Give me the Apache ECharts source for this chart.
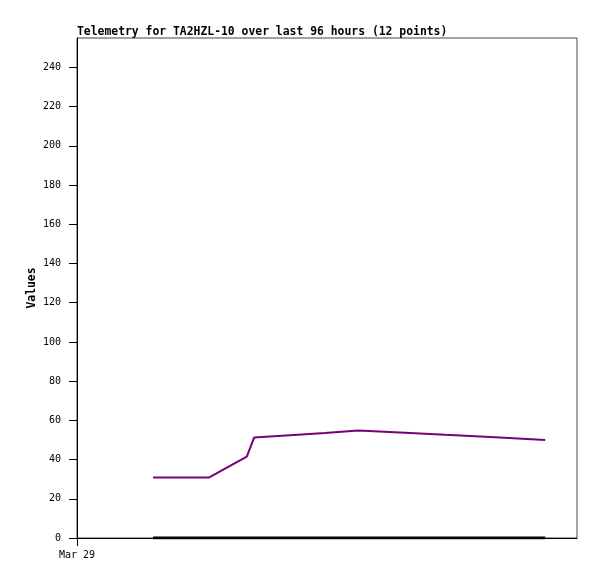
<!DOCTYPE html>
<html><head><meta charset="utf-8">
<script src="https://cdn.jsdelivr.net/npm/echarts@6/dist/echarts.min.js"></script>
<style>html,body{margin:0;padding:0;background:#fff}#c{width:597px;height:579px}</style>
</head><body><div id="c"></div>
<script>
const titleText = 'Telemetry for TA2HZL-10 over last 96 hours (12 points)';
const hours = [14.6, 25.3, 32.6, 34.0, 40.9, 47.6, 54.0, 62.0, 70.7, 75.5, 80.3, 89.9];
const valuesA = [30.8, 30.8, 41.5, 51.2, 52.4, 53.6, 54.8, 53.8, 52.6, 52.0, 51.4, 50.0];
const valuesB = [0, 0, 0, 0, 0, 0, 0, 0, 0, 0, 0, 0];
const xTickLabels = ['Mar 29'];
const yTicks = [0,20,40,60,80,100,120,140,160,180,200,220,240];

const font = "'DejaVu Sans Mono', 'Liberation Mono', monospace";
const chart = echarts.init(document.getElementById('c'), null, {renderer: 'canvas'});
chart.setOption({
  animation: false,
  backgroundColor: '#fff',
  title: {
    text: titleText, left: 72, top: 22,
    textStyle: {fontFamily: font, fontSize: 11.4, fontWeight: 'bold', color: '#000'}
  },
  grid: {left: 77, top: 38, width: 500, height: 500, show: true, borderColor: '#444', borderWidth: 1, backgroundColor: '#fff'},
  xAxis: {
    type: 'value', min: 0, max: 96, interval: 96,
    axisLine: {show: true, lineStyle: {color: '#000', width: 1}},
    axisTick: {show: true, length: 8, customValues: [0], lineStyle: {color: '#000'}},
    axisLabel: {customValues: [0], formatter: v => v === 0 ? xTickLabels[0] : '', fontFamily: font, fontSize: 10, color: '#000', margin: 12},
    splitLine: {show: false}
  },
  yAxis: {
    type: 'value', min: 0, max: 255, interval: 20,
    name: 'Values', nameLocation: 'middle', nameGap: 39, nameMoveOverlap: false,
    nameTextStyle: {fontFamily: font, fontSize: 11.4, fontWeight: 'bold', color: '#000'},
    axisLine: {show: true, lineStyle: {color: '#000', width: 1}},
    axisTick: {show: true, length: 8, customValues: yTicks, lineStyle: {color: '#000'}},
    axisLabel: {customValues: yTicks, fontFamily: font, fontSize: 10, color: '#000', margin: 16},
    splitLine: {show: false}
  },
  series: [
    {type: 'line', data: hours.map((h, i) => [h, valuesA[i]]), symbol: 'none', lineStyle: {color: '#770077', width: 2}, z: 3},
    {type: 'line', data: hours.map((h, i) => [h, valuesB[i]]), symbol: 'none', lineStyle: {color: '#000', width: 3}, z: 4}
  ]
});
</script></body></html>
